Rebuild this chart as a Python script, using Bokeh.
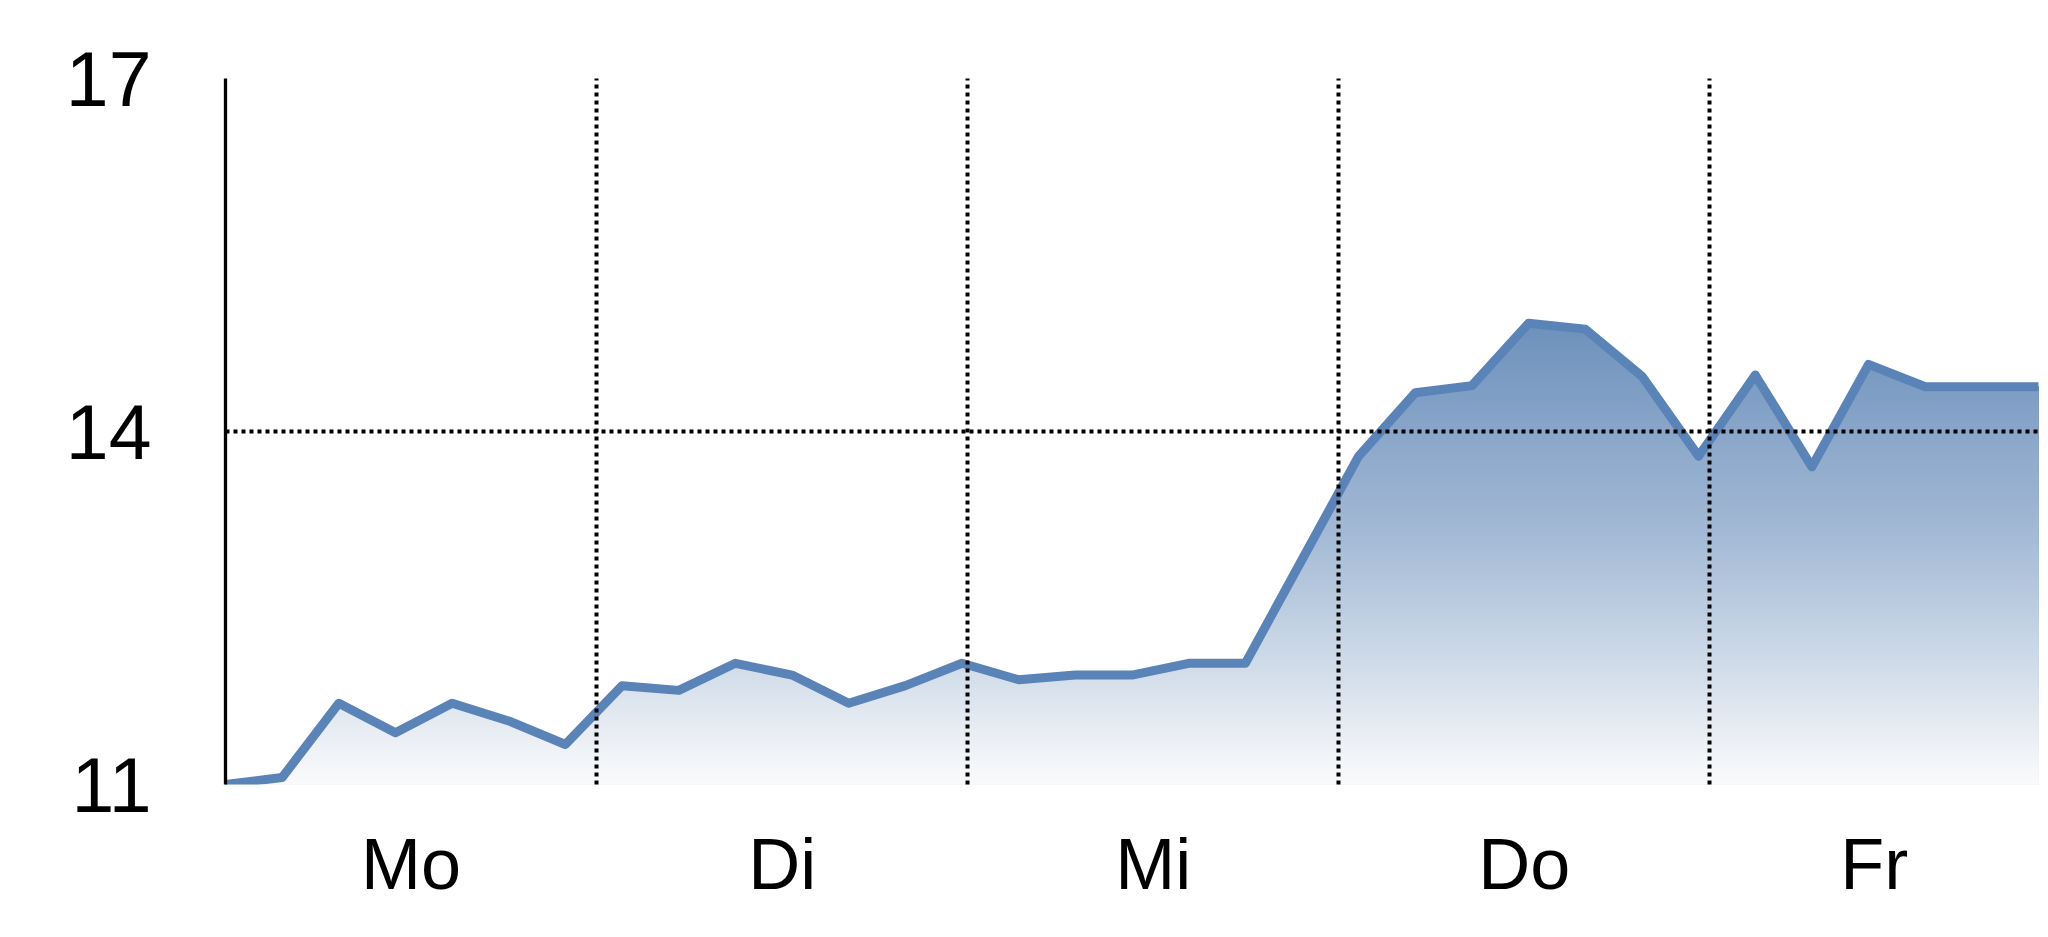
import numpy as np
from bokeh.plotting import figure
from bokeh.models import Range1d, FixedTicker
from bokeh.embed import file_html
from bokeh.resources import INLINE

# ---- data ----
days = ["Mo", "Di", "Mi", "Do", "Fr"]
day_length = 6.55          # points per day (day boundaries in index units)
values = [11.00, 11.06, 11.69, 11.44, 11.69, 11.54, 11.34, 11.84, 11.80, 12.03,
          11.93, 11.69, 11.84, 12.03, 11.89, 11.93, 11.93, 12.03, 12.03, 12.91,
          13.79, 14.33, 14.39, 14.92, 14.87, 14.47, 13.79, 14.48, 13.70, 14.57,
          14.38, 14.38, 14.38]
y_ticks = [11, 14, 17]
y_grid = [14]

x = np.arange(len(values), dtype=float)
y = np.array(values, dtype=float)
x_end = x[-1]

bounds = [round(day_length * k, 3) for k in range(1, len(days))]
edges = [0.0] + bounds + [x_end]
centers = [round((edges[i] + edges[i + 1]) / 2, 3) for i in range(len(days))]

FONT = "'Liberation Sans', Arial, sans-serif"
LINE_COLOR = "#5a83b7"

p = figure(width=2040, height=929, output_backend="svg", toolbar_location=None,
           x_range=Range1d(0, x_end), y_range=Range1d(11, 17),
           min_border_left=225, min_border_right=2, min_border_top=78, min_border_bottom=145)
p.outline_line_color = None
p.background_fill_color = "white"
p.border_fill_color = "white"

# ---- gradient fill (layered areas, colours by height) ----
stops = [(11.0, (250, 250, 252)), (11.12, (247, 248, 250)), (11.88, (214, 224, 236)),
         (13.16, (163, 185, 213)), (14.9, (110, 146, 189)), (15.6, (104, 140, 184))]
sv = np.array([s[0] for s in stops])
def grad(v):
    r = np.interp(v, sv, [s[1][0] for s in stops])
    g = np.interp(v, sv, [s[1][1] for s in stops])
    b = np.interp(v, sv, [s[1][2] for s in stops])
    return "#%02x%02x%02x" % (int(r), int(g), int(b))

step = 0.025
levels = np.arange(11 + step, y.max() + step * 2, step)[::-1]
for t in levels:
    xs = list(x)
    for i in range(len(x) - 1):
        if (y[i] - t) * (y[i + 1] - t) < 0:
            xs.append(x[i] + (t - y[i]) / (y[i + 1] - y[i]))
    xs = np.array(sorted(set(xs)))
    ys = np.minimum(np.interp(xs, x, y), t)
    p.varea(x=xs, y1=np.full_like(xs, 11.0), y2=ys, fill_color=grad(t - step / 2),
            fill_alpha=1.0)

# ---- line ----
p.line(x, y, line_color=LINE_COLOR, line_width=9, line_join="round", line_cap="round")

# ---- grids ----
p.xgrid.ticker = FixedTicker(ticks=bounds)
p.ygrid.ticker = FixedTicker(ticks=y_grid)
for g in (p.xgrid[0], p.ygrid[0]):
    g.grid_line_color = "black"
    g.grid_line_width = 4
    g.grid_line_dash = "4 4"
    g.level = "overlay"

# ---- axes ----
ya = p.yaxis[0]
ya.ticker = FixedTicker(ticks=y_ticks)
ya.major_tick_line_color = None
ya.minor_tick_line_color = None
ya.axis_line_color = "black"
ya.axis_line_width = 3.3
ya.major_label_text_font = FONT
ya.major_label_text_font_size = "77px"
ya.major_label_text_color = "black"
ya.major_label_standoff = 68

xa = p.xaxis[0]
xa.ticker = FixedTicker(ticks=centers)
xa.major_label_overrides = {c: d for c, d in zip(centers, days)}
xa.major_tick_line_color = None
xa.minor_tick_line_color = None
xa.axis_line_color = None
xa.major_label_text_font = FONT
xa.major_label_text_font_size = "72px"
xa.major_label_text_color = "black"
xa.major_label_standoff = 33

open("out.html", "w").write(file_html(p, INLINE))
